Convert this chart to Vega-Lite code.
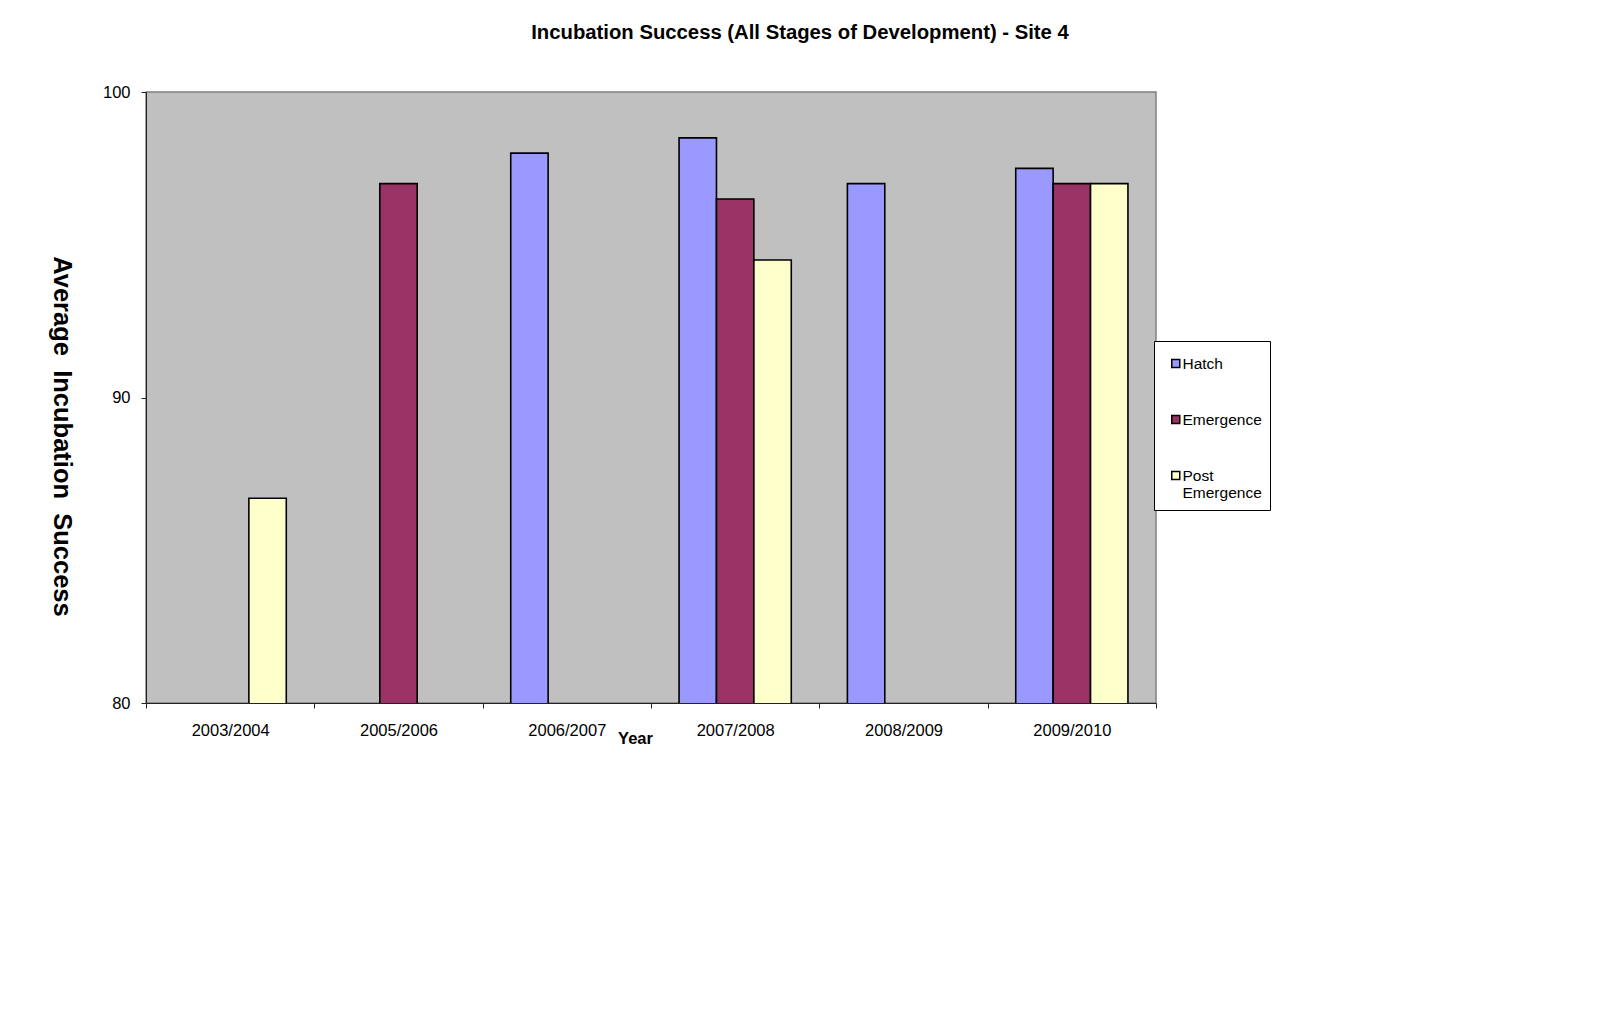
{
  "$schema": "https://vega.github.io/schema/vega-lite/v6.json",
  "autosize": {"type": "none"},
  "width": 1010,
  "height": 611,
  "padding": {"left": 146, "top": 92, "right": 444, "bottom": 316},
  "background": "white",
  "title": {
    "text": "Incubation Success (All Stages of Development) - Site 4",
    "anchor": "middle",
    "frame": "group",
    "dx": 149,
    "offset": 41,
    "font": "Liberation Sans",
    "fontSize": 20.3,
    "fontWeight": "bold",
    "color": "black"
  },
  "data": {
    "values": [
      {"year": "2003/2004", "stage": "Post Emergence", "success": 86.7},
      {"year": "2005/2006", "stage": "Emergence", "success": 97.0},
      {"year": "2006/2007", "stage": "Hatch", "success": 98.0},
      {"year": "2007/2008", "stage": "Hatch", "success": 98.5},
      {"year": "2007/2008", "stage": "Emergence", "success": 96.5},
      {"year": "2007/2008", "stage": "Post Emergence", "success": 94.5},
      {"year": "2008/2009", "stage": "Hatch", "success": 97.0},
      {"year": "2009/2010", "stage": "Hatch", "success": 97.5},
      {"year": "2009/2010", "stage": "Emergence", "success": 97.0},
      {"year": "2009/2010", "stage": "Post Emergence", "success": 97.0}
    ]
  },
  "mark": {"type": "bar", "stroke": "black", "strokeWidth": 1.6, "clip": true},
  "encoding": {
    "x": {
      "field": "year",
      "type": "nominal",
      "scale": {
        "domain": ["2003/2004", "2005/2006", "2006/2007", "2007/2008", "2008/2009", "2009/2010"],
        "paddingInner": 0,
        "paddingOuter": 0
      },
      "axis": {
        "title": "Year",
        "titleX": 489,
        "titleY": 35,
        "titleAlign": "center",
        "titleBaseline": "middle",
        "titleFont": "Liberation Sans",
        "titleFontSize": 16.5,
        "titleFontWeight": "bold",
        "titleColor": "black",
        "labelAngle": 0,
        "labelFont": "Liberation Sans",
        "labelFontSize": 16.5,
        "labelColor": "black",
        "labelPadding": 14,
        "tickBand": "extent",
        "tickSize": 5,
        "tickColor": "#222222",
        "domainColor": "#222222",
        "grid": false
      }
    },
    "xOffset": {
      "field": "stage",
      "type": "nominal",
      "scale": {"domain": ["Hatch", "Emergence", "Post Emergence"], "paddingInner": 0, "paddingOuter": 0.75}
    },
    "y": {
      "field": "success",
      "type": "quantitative",
      "scale": {"domain": [80, 100], "zero": false, "nice": false},
      "axis": {
        "title": "Average\u00a0 Incubation\u00a0 Success",
        "titleAngle": 90,
        "titleX": -85,
        "titleY": 344,
        "titleAlign": "center",
        "titleBaseline": "middle",
        "titleFont": "Liberation Sans",
        "titleFontSize": 25.5,
        "titleFontWeight": "bold",
        "titleColor": "black",
        "values": [80, 90, 100],
        "labelFont": "Liberation Sans",
        "labelFontSize": 16.5,
        "labelColor": "black",
        "labelPadding": 11,
        "tickSize": 5,
        "tickColor": "#222222",
        "domainColor": "#222222",
        "grid": false
      }
    },
    "color": {
      "field": "stage",
      "type": "nominal",
      "scale": {
        "domain": ["Hatch", "Emergence", "Post Emergence"],
        "range": ["#9999FF", "#993366", "#FFFFCC"]
      },
      "legend": {
        "title": null,
        "orient": "none",
        "legendX": 1008,
        "legendY": 249,
        "padding": 8,
        "symbolOffset": 6,
        "fillColor": "white",
        "strokeColor": "black",
        "symbolType": "M-1,0.675H1V2.675H-1Z",
        "symbolSize": 64,
        "symbolStrokeColor": "black",
        "symbolStrokeWidth": 1.5,
        "labelFont": "Liberation Sans",
        "labelFontSize": 15.5,
        "labelColor": "black",
        "labelOffset": -1,
        "labelBaseline": "top",
        "rowPadding": 32,
        "labelExpr": "datum.label == 'Post Emergence' ? ['Post', 'Emergence'] : datum.label"
      }
    }
  },
  "config": {
    "view": {"fill": "#C0C0C0", "stroke": "#808080", "strokeWidth": 1.5}
  }
}
